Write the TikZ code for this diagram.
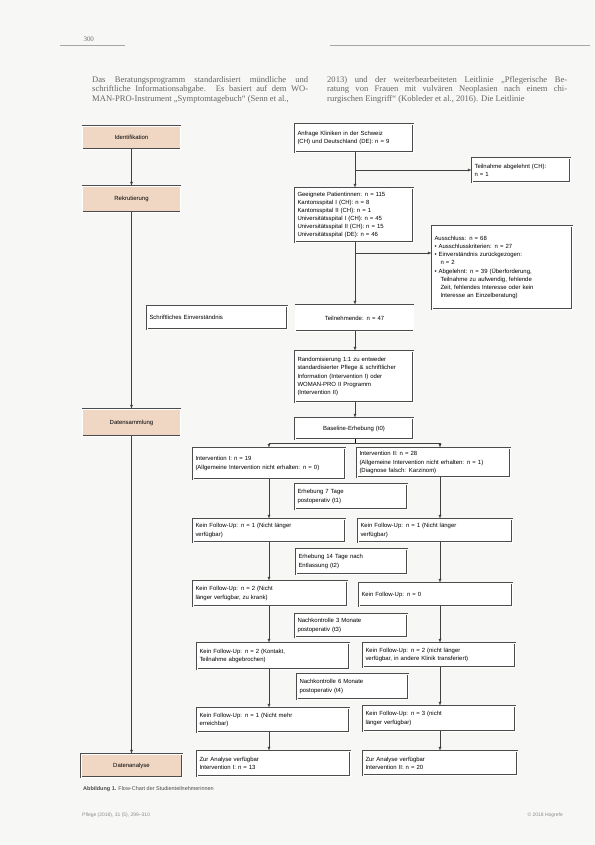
\documentclass[tikz,border=0pt]{standalone}
\usepackage{fontspec}
\setmainfont{Liberation Serif}
\newfontfamily\figfont{Liberation Sans}
\usetikzlibrary{positioning, arrows}
\definecolor{phasecol}{RGB}{240,215,196}
\definecolor{papier}{RGB}{247,247,245}
\tikzset{
  phase/.style={draw=black!70, double, double distance=0.7pt, line width=0.35pt, fill=phasecol,
    minimum width=98bp, minimum height=23bp, font=\figfont\fontsize{6}{7}\selectfont},
  box/.style={draw=black!70, double, double distance=0.7pt, line width=0.35pt, fill=white,
    align=left, inner sep=2.5pt, font=\figfont\fontsize{6}{8.2}\selectfont},
  arr/.style={-latex, black!75, thin},
}

\begin{document}
\begin{tikzpicture}[x=1bp, y=-1bp]
			\useasboundingbox (0,0) rectangle (595,845);
			\fill[papier] (0,0) rectangle (595,845);

			%% Kopfzeile
			\node[anchor=base west, font=\fontsize{7}{8}\selectfont, black!55] (seite) at (80,41) {300};
			\draw[black!35, thin] (60,45) -- (125,45);
			\draw[black!35, thin] (330,45) -- (590,45);

			%% Text
			\node[anchor=north west, text width=216bp, inner sep=0pt, align=justify,
			  font=\fontsize{8.6}{9.6}\selectfont, black!60] (textl) at (92,76)
			  {Das Beratungsprogramm standardisiert mündliche und\linebreak
			   schriftliche Informationsabgabe. Es basiert auf dem WO-\linebreak
			   MAN-PRO-Instrument „Symptomtagebuch“ (Senn et al.,\parfillskip=0pt};
			\node[anchor=north west, text width=240bp, inner sep=0pt, align=justify,
			  font=\fontsize{8.6}{9.6}\selectfont, black!60] (textr) at (327,76)
			  {2013) und der weiterbearbeiteten Leitlinie „Pflegerische Be-\linebreak
			   ratung von Frauen mit vulvären Neoplasien nach einem chi-\linebreak
			   rurgischen Eingriff“ (Kobleder et al., 2016). Die Leitlinie\parfillskip=0pt};

			%% Phasen
			\node[phase] (ident) at (131.5,137.5) {Identifikation};
			\node[phase, minimum height=26bp] (rekrut) at (131.5,199) {Rekrutierung};
			\node[phase, minimum height=27bp] (sammlung) at (131.5,422.5) {Datensammlung};
			\node[phase, minimum width=101bp] (analyse) at (131.5,765.5) {Datenanalyse};

			%% Identifikation / Rekrutierung
			\node[box, text width=113bp, minimum height=28bp] (anfrage) at (354,138)
			  {Anfrage Kliniken in der Schweiz\\(CH) und Deutschland (DE): n = 9};
			\node[box, text width=93bp, minimum height=24bp] (abgelehnt) at (521,170)
			  {Teilnahme abgelehnt (CH):\\n = 1};
			\node[box, text width=113bp, minimum height=54bp] (geeignet) at (354,215)
			  {Geeignete Patientinnen: n = 115\\Kantonsspital I (CH): n = 8\\Kantonsspital II (CH): n = 1\\
			   Universitätsspital I (CH): n = 45\\Universitätsspital II (CH): n = 15\\Universitätsspital (DE): n = 46};
			\node[box, text width=135bp, minimum height=83bp] (ausschluss) at (502,267.5)
			  {Ausschluss: n = 68\\
			   \textbullet\ Ausschlusskriterien: n = 27\\
			   \textbullet\ Einverständnis zurückgezogen:\\\hspace*{6bp}n = 2\\
			   \textbullet\ Abgelehnt: n = 39 (Überforderung,\\\hspace*{6bp}Teilnahme zu aufwendig, fehlende\\
			   \hspace*{6bp}Zeit, fehlendes Interesse oder kein\\\hspace*{6bp}Interesse an Einzelberatung)};
			\node[box, text width=135bp, minimum height=23bp] (einverst) at (217,317.5)
			  {Schriftliches Einverständnis};
			\node[box, text width=113bp, minimum height=26bp, align=center] (teiln) at (354.5,318)
			  {Teilnehmende: n = 47};
			\node[box, text width=113bp, minimum height=51bp] (random) at (354,376.5)
			  {Randomisierung 1:1 zu entweder\\standardisierter Pflege \& schriftlicher\\Information (Intervention I) oder\\WOMAN-PRO II Programm\\(Intervention II)};

			%% Datensammlung
			\node[box, text width=113bp, minimum height=21bp, align=center] (baseline) at (354,428.5)
			  {Baseline-Erhebung (t0)};
			\node[box, text width=147bp, minimum height=31bp] (int1) at (269,463.5)
			  {Intervention I: n = 19\\(Allgemeine Intervention nicht erhalten: n = 0)};
			\node[box, text width=148bp, minimum height=29bp] (int2) at (433.5,462.5)
			  {Intervention II: n = 28\\(Allgemeine Intervention nicht erhalten: n = 1)\\(Diagnose falsch: Karzinom)};
			\node[box, text width=107bp, minimum height=25bp] (tI) at (351,496.5)
			  {Erhebung 7 Tage\\postoperativ (t1)};
			\node[box, text width=147bp, minimum height=23bp] (fu1l) at (269,530.5)
			  {Kein Follow-Up: n = 1 (Nicht länger\\verfügbar)};
			\node[box, text width=149bp, minimum height=23bp] (fu1r) at (435,530.5)
			  {Kein Follow-Up: n = 1 (Nicht länger\\verfügbar)};
			\node[box, text width=106bp, minimum height=25bp] (tII) at (351.5,561.5)
			  {Erhebung 14 Tage nach\\Entlassung (t2)};
			\node[box, text width=149bp, minimum height=25bp] (fu2l) at (270,593.5)
			  {Kein Follow-Up: n = 2 (Nicht\\länger verfügbar, zu krank)};
			\node[box, text width=148bp, minimum height=23bp] (fu2r) at (435.5,594.5)
			  {Kein Follow-Up: n = 0};
			\node[box, text width=107bp, minimum height=23bp] (tIII) at (351,625.5)
			  {Nachkontrolle 3 Monate\\postoperativ (t3)};
			\node[box, text width=147bp, minimum height=26bp] (fu3l) at (273,656)
			  {Kein Follow-Up: n = 2 (Kontakt,\\Teilnahme abgebrochen)};
			\node[box, text width=147bp, minimum height=24bp] (fu3r) at (439,655)
			  {Kein Follow-Up: n = 2 (nicht länger\\verfügbar, in andere Klinik transferiert)};
			\node[box, text width=106bp, minimum height=25bp] (tIV) at (352.5,686.5)
			  {Nachkontrolle 6 Monate\\postoperativ (t4)};
			\node[box, text width=147bp, minimum height=24bp] (fu4l) at (273,720)
			  {Kein Follow-Up: n = 1 (Nicht mehr\\erreichbar)};
			\node[box, text width=147bp, minimum height=25bp] (fu4r) at (439,718.5)
			  {Kein Follow-Up: n = 3 (nicht\\länger verfügbar)};

			%% Datenanalyse
			\node[box, text width=148bp, minimum height=25bp] (ana1) at (273.5,763.5)
			  {Zur Analyse verfügbar\\Intervention I: n = 13};
			\node[box, text width=149bp, minimum height=24bp] (ana2) at (440,763)
			  {Zur Analyse verfügbar\\Intervention II: n = 20};

			%% Abbildungslegende
			\node[anchor=base west, inner sep=0pt, font=\figfont\fontsize{5.5}{6.5}\selectfont, black!70] (legende) at (83,790)
			  {\textbf{Abbildung 1.} Flow-Chart der Studienteilnehmerinnen};

			%% Fusszeile
			\node[anchor=base west, inner sep=0pt, font=\figfont\fontsize{5}{6}\selectfont, black!45] (fussl) at (82,816)
			  {Pflege (2018), 31 (5), 299–310};
			\node[anchor=base east, inner sep=0pt, font=\figfont\fontsize{5}{6}\selectfont, black!45] (fussr) at (563,816)
			  {© 2018 Hogrefe};

			%% Verbindungen
			\coordinate (mitte) at (355,0);
			\coordinate (links) at (269,0);
			\coordinate (rechts) at (440,0);
			\coordinate (teilung) at (355,443);

			\draw[arr] (ident) -- (rekrut);
			\draw[arr] (rekrut) -- (sammlung);
			\draw[arr] (sammlung) -- (analyse);

			\draw[arr] (anfrage.south -| mitte) -- (geeignet.north -| mitte);
			\draw[arr] (anfrage.south -| mitte) |- (abgelehnt.west);
			\draw[arr] (geeignet.south -| mitte) -- (teiln.north -| mitte);
			\draw[arr] (geeignet.south -| mitte) |- ([yshift=14.5bp]ausschluss.west);
			\draw[arr] (teiln.south -| mitte) -- (random.north -| mitte);
			\draw[arr] (random.south -| mitte) -- (baseline.north -| mitte);

			\draw (baseline.south -| mitte) -- (teilung);
			\draw[arr] (teilung) -| (int1.north -| links);
			\draw[arr] (teilung) -| (int2.north -| rechts);

			\foreach \a/\b in {int1/fu1l, fu1l/fu2l, fu2l/fu3l, fu3l/fu4l, fu4l/ana1}
			  \draw[arr] (\a.south -| links) -- (\b.north -| links);
			\foreach \a/\b in {int2/fu1r, fu1r/fu2r, fu2r/fu3r, fu3r/fu4r, fu4r/ana2}
			  \draw[arr] (\a.south -| rechts) -- (\b.north -| rechts);
		\end{tikzpicture}
\end{document}
